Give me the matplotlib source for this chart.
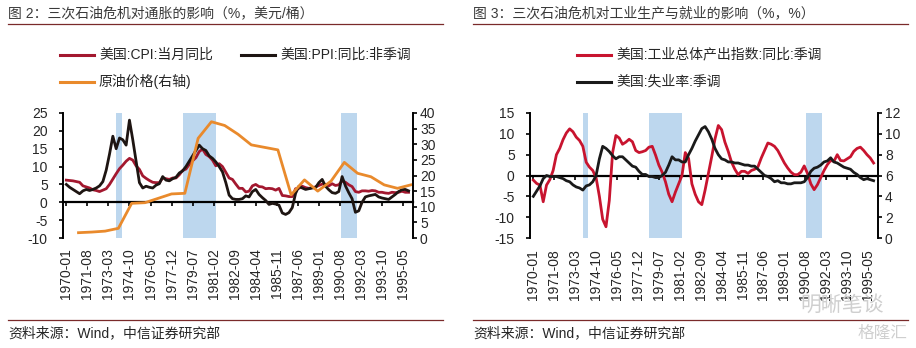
import numpy as np
import pandas as pd
import matplotlib
matplotlib.use('Agg')
import matplotlib.pyplot as plt
from matplotlib.lines import Line2D

plt.rcParams['font.family'] = ['Liberation Sans', 'Noto Sans CJK SC']
plt.rcParams['axes.unicode_minus'] = False

W, H = 916, 348

## Data: quarterly samples (Jan/Apr/Jul/Oct), 1970-1995
quarters = pd.date_range('1970-01-01', '1995-10-01', freq='QS')

cpi = [6.2, 6.1, 6.0, 5.8,
       5.6, 4.6, 4.3, 4.0,
       3.5, 3.3, 3.0, 3.4,
       3.8, 5.0, 6.5, 8.0,
       9.4, 10.4, 11.5, 12.3,
       11.8, 10.2, 9.2, 7.4,
       6.7, 6.1, 5.6, 5.5,
       5.5, 6.8, 6.6, 6.4,
       6.8, 6.8, 7.7, 8.9,
       9.3, 10.6, 11.6, 12.5,
       14.2, 14.9, 13.4, 12.8,
       11.8, 10.2, 10.8, 10.0,
       8.4, 6.8, 6.4, 5.1,
       3.9, 3.9, 2.9, 3.1,
       4.6, 5.0, 4.4, 4.3,
       3.8, 3.9, 3.8, 3.4,
       3.9, 1.9, 1.8, 1.6,
       1.6, 3.8, 3.9, 4.5,
       4.1, 3.9, 4.1, 4.3,
       4.7, 5.1, 5.0, 4.6,
       5.2, 4.7, 4.9, 6.0,
       5.6, 4.9, 4.4, 3.0,
       2.8, 3.2, 3.2, 3.1,
       3.3, 3.2, 2.8, 2.8,
       2.6, 2.5, 2.8, 2.7,
       2.8, 3.1, 2.8, 2.8]

ppi = [5.0, 4.2, 3.6, 3.0,
       2.4, 3.2, 3.6, 3.3,
       3.6, 4.0, 4.6, 5.8,
       9.0, 13.5, 18.5, 15.0,
       18.0, 17.5, 16.0, 23.0,
       17.5, 11.5, 5.5, 4.0,
       4.5, 4.2, 4.0, 4.8,
       5.2, 7.2, 6.2, 6.0,
       6.6, 7.0, 8.2, 8.8,
       10.0, 11.5, 13.0, 14.5,
       16.0, 15.0, 14.5, 13.0,
       12.3, 11.3, 10.0, 8.5,
       5.5, 2.0, 1.0, 0.8,
       0.8, 1.0, 1.8, 1.5,
       3.0, 3.6, 2.2, 1.3,
       0.5, -0.6, -0.3, -0.5,
       -0.8, -3.0, -3.4, -2.9,
       -1.5, 2.5, 4.5, 4.0,
       3.6, 3.8, 4.0, 4.1,
       5.5, 6.4, 4.5, 3.5,
       2.7, 2.5, 3.0, 7.2,
       4.6, 2.7, 1.0, -2.8,
       -2.4, 0.0, 1.5, 1.8,
       2.0, 2.2, 1.5, 1.2,
       1.0, 0.8, 1.5, 2.2,
       3.0, 3.5, 3.6, 3.2]

## annual crude oil price, plotted at December of each year
oil_years = list(range(1970, 1996))
oil = [1.7, 1.9, 2.2, 3.1, 11.1, 11.3, 12.7, 14.1, 14.3, 31.9, 37.2, 36.0, 33.2,
       29.8, 29.0, 28.2, 13.8, 18.6, 15.0, 18.2, 24.2, 20.7, 19.6, 17.0, 15.9, 17.0]

ip = [-1.1, -1.9, -2.3, -6.3,
      -2.3, -1.0, 1.2, 5.0,
      6.5, 8.6, 10.2, 11.2,
      10.5, 9.2, 8.4, 7.0,
      3.2, 2.0, 1.2, -0.5,
      -5.0, -10.5, -12.3, -6.0,
      5.5, 9.6, 9.0, 7.5,
      8.0, 8.7, 8.1, 6.0,
      5.5, 5.7, 6.0, 6.8,
      7.0, 4.9, 2.5, 0.8,
      -1.5, -4.5, -6.3, -4.0,
      -2.0, 0.0, 5.5, 4.1,
      -2.0, -4.5, -6.3, -7.0,
      -3.5, 0.5, 4.5, 8.8,
      12.0, 11.0, 8.0, 5.8,
      3.2, 1.5, 0.2, 1.0,
      1.0, 0.5, 1.2, 1.5,
      2.1, 4.2, 6.0, 7.8,
      7.5, 7.0, 6.0, 4.5,
      3.0, 1.8, 0.8, 0.2,
      0.2, 0.8, 2.3, 0.5,
      -2.0, -3.4, -2.2, -0.5,
      1.2, 2.6, 3.6, 3.4,
      5.0, 3.6, 3.5, 4.0,
      4.5, 5.8, 6.5, 6.8,
      6.0, 5.0, 4.2, 3.0]

unemp = [4.0, 4.5, 5.0, 5.7,
         6.0, 5.9, 5.9, 5.9,
         5.8, 5.7, 5.5, 5.4,
         5.1, 4.9, 4.8, 4.6,
         5.0, 5.1, 5.4, 6.0,
         7.6, 8.8, 8.6, 8.3,
         7.9, 7.6, 7.8, 7.8,
         7.5, 7.2, 6.9, 6.8,
         6.4, 6.1, 6.1, 5.9,
         5.9, 5.8, 5.8, 6.0,
         6.3, 7.0, 7.8, 7.5,
         7.5, 7.3, 7.3, 8.0,
         8.6, 9.3, 9.9, 10.5,
         10.7, 10.2, 9.5, 8.6,
         8.0, 7.6, 7.5, 7.3,
         7.3, 7.2, 7.2, 7.1,
         7.0, 7.0, 6.9, 6.9,
         6.6, 6.3, 6.0, 5.9,
         5.7, 5.4, 5.5, 5.3,
         5.3, 5.2, 5.2, 5.3,
         5.3, 5.3, 5.4, 5.8,
         6.4, 6.7, 6.8, 7.0,
         7.3, 7.4, 7.7, 7.3,
         7.2, 7.0, 6.8, 6.7,
         6.6, 6.3, 6.1, 5.8,
         5.6, 5.7, 5.6, 5.5]

tick_labels = ['1970-01', '1971-08', '1973-03', '1974-10', '1976-05', '1977-12',
               '1979-07', '1981-02', '1982-09', '1984-04', '1985-11', '1987-06',
               '1989-01', '1990-08', '1992-03', '1993-10', '1995-05']

## oil crisis periods (shaded)
crises = [('1973-10', '1974-03'), ('1978-10', '1981-04'), ('1990-09', '1991-11')]

for s in (cpi, ppi, ip, unemp):
    assert len(s) == len(quarters)


def month_idx(label):
    y, m = label.split('-')
    return (int(y) - 1970) * 12 + int(m) - 1

xq = np.array([(d.year - 1970) * 12 + d.month - 1 for d in quarters])
xoil = np.array([(y - 1970) * 12 + 11 for y in oil_years])
xticks = [month_idx(t) for t in tick_labels]

C_CPI = '#A3182F'
C_PPI = '#1E1512'
C_OIL = '#E98A2C'
C_IP = '#C8142F'
C_UN = '#1A1A1A'
C_SPAN = '#BDD7EE'
C_RULE = '#7A2A2A'
TXT = '#262626'
LW = 2.0


def fx(x):
    return x / W

def fy(y):
    return 1 - y / H

def add_axes(x0, x1, y0, y1):
    return fig.add_axes([fx(x0), fy(y1), (x1 - x0) / W, (y1 - y0) / H])

def style(ax, ax2, xpad):
    ax.set_xlim(-3, 313)
    for s in ('top', 'right'):
        ax.spines[s].set_visible(False)
    for s in ('top', 'left', 'bottom'):
        ax2.spines[s].set_visible(False)
    ax.spines['bottom'].set_position(('data', 0))
    ax.spines['bottom'].set_linewidth(1.6)
    ax.spines['left'].set_linewidth(1.4)
    ax2.spines['right'].set_linewidth(1.4)
    ax.set_xticks(xticks)
    ax.set_xticklabels(tick_labels)
    ax.tick_params(axis='x', direction='out', length=3, width=1.2, pad=xpad,
                   labelrotation=90, labelsize=10, labelcolor=TXT)
    ax.tick_params(axis='y', direction='out', length=3, width=1.2, pad=8,
                   labelsize=10, labelcolor=TXT)
    ax2.tick_params(axis='y', direction='out', length=3, width=1.2, pad=2,
                    labelsize=10, labelcolor=TXT)
    for s, e in crises:
        ax.axvspan(month_idx(s), month_idx(e), color=C_SPAN, lw=0, zorder=0)

def header(x0, x1, title):
    fig.text(fx(x0), fy(13), title, fontsize=10, color='#3a3a3a', va='center')
    fig.add_artist(Line2D([fx(x0), fx(x1)], [fy(23.5), fy(23.5)], color=C_RULE, lw=0.9))
    fig.add_artist(Line2D([fx(x0), fx(x1)], [fy(320), fy(320)], color=C_RULE, lw=0.9))
    fig.text(fx(x0), fy(333), '资料来源：Wind，中信证券研究部', fontsize=10,
             color=TXT, va='center')

def legend_item(x, y, color, label):
    fig.add_artist(Line2D([fx(x), fx(x + 34)], [fy(y), fy(y)], color=color, lw=2.2))
    fig.text(fx(x + 39), fy(y), label, fontsize=10, color=TXT, va='center')


fig = plt.figure(figsize=(W / 100, H / 100), dpi=100)

## Left: inflation
ax = add_axes(63, 413, 113, 238)
ax2 = ax.twinx()
ax.plot(xq, cpi, color=C_CPI, lw=LW, zorder=3)
ax.plot(xq, ppi, color=C_PPI, lw=LW, zorder=4)
ax2.plot(xoil, oil, color=C_OIL, lw=LW)
ax.set_ylim(-10, 25)
ax.set_yticks(range(-10, 30, 5))
ax2.set_ylim(0, 40)
ax2.set_yticks(range(0, 45, 5))
style(ax, ax2, 30)

header(8, 443, '图 2：三次石油危机对通胀的影响（%，美元/桶）')
legend_item(60, 54.5, C_CPI, '美国:CPI:当月同比')
legend_item(241, 54.5, C_PPI, '美国:PPI:同比:非季调')
legend_item(60, 81.5, C_OIL, '原油价格(右轴)')

## Right: production & employment
bx = add_axes(530, 878, 113, 238)
bx2 = bx.twinx()
bx.plot(xq, ip, color=C_IP, lw=LW, zorder=3)
bx2.plot(xq, unemp, color=C_UN, lw=LW)
bx.set_ylim(-15, 15)
bx.set_yticks(range(-15, 20, 5))
bx2.set_ylim(0, 12)
bx2.set_yticks(range(0, 14, 2))
style(bx, bx2, 50)

header(473, 908, '图 3：三次石油危机对工业生产与就业的影响（%，%）')
legend_item(577, 54.5, C_IP, '美国:工业总体产出指数:同比:季调')
legend_item(577, 81.5, C_UN, '美国:失业率:季调')

## watermarks
fig.text(fx(800), fy(305), '明晰笔谈', fontsize=15, color='#cfcfcf', va='center')
fig.text(fx(858), fy(333), '格隆汇', fontsize=12, color='#cfcfcf', va='center')

fig.savefig('out.png', dpi=100)
